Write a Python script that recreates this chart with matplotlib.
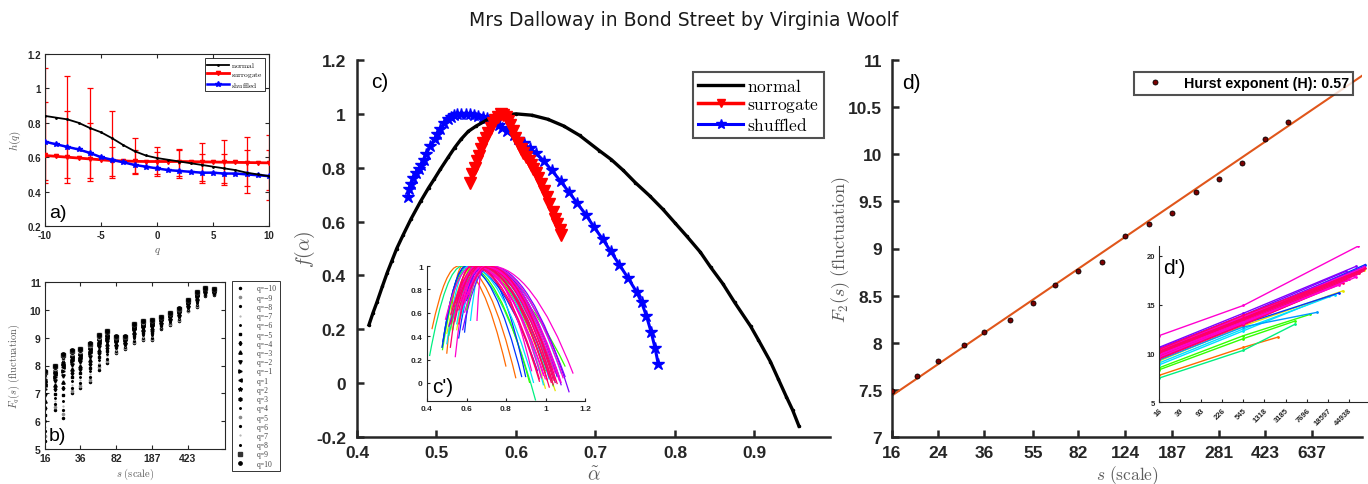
import matplotlib
matplotlib.use("Agg")
import matplotlib.pyplot as plt
from matplotlib.path import Path
from matplotlib.patches import PathPatch
from matplotlib.ticker import NullLocator
import numpy as np

plt.rcParams['mathtext.fontset'] = 'cm'
plt.rcParams['font.family'] = ['Liberation Sans', 'DejaVu Sans']
plt.rcParams['axes.unicode_minus'] = False

TITLE = "Mrs Dalloway in Bond Street by Virginia Woolf"

# ---------------- (a) generalized Hurst exponent h(q) ----------------
q_vals = list(range(-10, 11))
h_normal = [0.84, 0.83, 0.82, 0.80, 0.77, 0.745, 0.71, 0.67, 0.635, 0.61, 0.595,
            0.585, 0.575, 0.565, 0.555, 0.545, 0.535, 0.525, 0.51, 0.50, 0.49]
h_surrogate = [0.61, 0.605, 0.60, 0.595, 0.59, 0.585, 0.58, 0.578, 0.576, 0.575, 0.575,
               0.575, 0.575, 0.574, 0.573, 0.572, 0.571, 0.57, 0.569, 0.568, 0.567]
h_shuffled = [0.69, 0.675, 0.66, 0.645, 0.625, 0.60, 0.585, 0.57, 0.555, 0.545, 0.535,
              0.525, 0.52, 0.515, 0.51, 0.51, 0.505, 0.505, 0.50, 0.495, 0.49]
q_err = [-10, -8, -6, -4, -2, 0, 2, 4, 6, 8, 10]
err_center = [0.61, 0.60, 0.59, 0.58, 0.576, 0.575, 0.575, 0.573, 0.571, 0.569, 0.567]
err_outer_hi = [1.12, 1.07, 1.00, 0.87, 0.71, 0.66, 0.65, 0.68, 0.70, 0.72, 0.73]
err_outer_lo = [0.45, 0.45, 0.46, 0.48, 0.50, 0.49, 0.48, 0.45, 0.44, 0.39, 0.35]
err_inner_hi = [0.92, 0.87, 0.80, 0.66, 0.64, 0.63, 0.64, 0.62, 0.62, 0.64, 0.64]
err_inner_lo = [0.47, 0.48, 0.48, 0.49, 0.51, 0.50, 0.49, 0.46, 0.45, 0.43, 0.41]
a_yticks = [0.2, 0.4, 0.6, 0.8, 1.0, 1.2]
a_yticklabels = ['0.2', '0.4', '0.6', '0.8', '1', '1.2']
a_xticks = [-10, -5, 0, 5, 10]

# ---------------- (b) q-order fluctuation functions ----------------
scales = [16, 20, 24, 30, 36, 45, 55, 67, 82, 101, 124, 152, 187, 230, 281, 345,
          423, 519, 637, 781]
b_q_labels = [-10, -9, -8, -7, -6, -5, -4, -3, -2, -1, 1, 2, 3, 4, 5, 6, 7, 8, 9, 10]
# one row per scale, one value per q (q = -10 ... -1, 1 ... 10)
fq_rows = [
    [5.30, 5.45, 5.63, 5.80, 6.00, 6.23, 6.48, 6.73, 6.95, 7.15, 7.30, 7.40, 7.48, 7.55, 7.60, 7.65, 7.70, 7.73, 7.76, 7.80],
    [6.40, 6.50, 6.61, 6.72, 6.85, 6.99, 7.15, 7.31, 7.46, 7.58, 7.68, 7.74, 7.79, 7.84, 7.87, 7.90, 7.94, 7.95, 7.98, 8.00],
    [6.10, 6.24, 6.40, 6.56, 6.74, 6.95, 7.18, 7.41, 7.62, 7.80, 7.94, 8.03, 8.10, 8.17, 8.22, 8.26, 8.31, 8.33, 8.37, 8.40],
    [7.00, 7.09, 7.20, 7.31, 7.43, 7.57, 7.73, 7.88, 8.02, 8.15, 8.24, 8.30, 8.35, 8.40, 8.43, 8.46, 8.49, 8.50, 8.53, 8.55],
    [7.20, 7.28, 7.38, 7.48, 7.59, 7.72, 7.86, 8.00, 8.12, 8.24, 8.32, 8.38, 8.42, 8.46, 8.49, 8.52, 8.54, 8.56, 8.58, 8.60],
    [7.40, 7.48, 7.58, 7.68, 7.79, 7.92, 8.06, 8.20, 8.32, 8.44, 8.52, 8.58, 8.62, 8.66, 8.69, 8.72, 8.74, 8.76, 8.78, 8.80],
    [7.85, 7.93, 8.01, 8.10, 8.20, 8.31, 8.44, 8.56, 8.68, 8.78, 8.85, 8.90, 8.94, 8.98, 9.00, 9.03, 9.05, 9.06, 9.08, 9.10],
    [8.10, 8.17, 8.25, 8.33, 8.42, 8.53, 8.64, 8.76, 8.86, 8.95, 9.02, 9.07, 9.10, 9.14, 9.16, 9.18, 9.20, 9.22, 9.23, 9.25],
    [8.45, 8.49, 8.53, 8.57, 8.62, 8.67, 8.73, 8.79, 8.85, 8.89, 8.93, 8.95, 8.97, 8.99, 9.00, 9.01, 9.03, 9.03, 9.04, 9.05],
    [8.60, 8.63, 8.66, 8.69, 8.73, 8.77, 8.81, 8.86, 8.90, 8.93, 8.96, 8.98, 8.99, 9.01, 9.01, 9.02, 9.03, 9.04, 9.04, 9.05],
    [8.80, 8.84, 8.89, 8.94, 9.00, 9.06, 9.13, 9.20, 9.26, 9.32, 9.36, 9.39, 9.41, 9.43, 9.44, 9.46, 9.47, 9.48, 9.49, 9.50],
    [8.90, 8.94, 8.99, 9.04, 9.10, 9.16, 9.23, 9.30, 9.36, 9.42, 9.46, 9.49, 9.51, 9.53, 9.54, 9.56, 9.57, 9.58, 9.59, 9.60],
    [8.90, 8.95, 9.00, 9.05, 9.11, 9.18, 9.25, 9.33, 9.40, 9.46, 9.50, 9.53, 9.55, 9.58, 9.59, 9.61, 9.62, 9.63, 9.64, 9.65],
    [9.30, 9.33, 9.36, 9.39, 9.43, 9.47, 9.51, 9.56, 9.60, 9.63, 9.66, 9.68, 9.69, 9.71, 9.71, 9.72, 9.73, 9.74, 9.74, 9.75],
    [9.45, 9.48, 9.51, 9.54, 9.58, 9.62, 9.66, 9.71, 9.75, 9.78, 9.81, 9.83, 9.84, 9.86, 9.86, 9.87, 9.88, 9.89, 9.89, 9.90],
    [9.60, 9.63, 9.66, 9.69, 9.73, 9.77, 9.81, 9.86, 9.90, 9.93, 9.96, 9.98, 9.99, 10.01, 10.01, 10.02, 10.03, 10.04, 10.04, 10.05],
    [9.95, 9.97, 10.00, 10.03, 10.06, 10.10, 10.14, 10.18, 10.21, 10.25, 10.27, 10.29, 10.30, 10.31, 10.32, 10.33, 10.33, 10.34, 10.34, 10.35],
    [10.10, 10.13, 10.17, 10.21, 10.25, 10.30, 10.36, 10.41, 10.46, 10.51, 10.54, 10.56, 10.58, 10.60, 10.61, 10.62, 10.63, 10.63, 10.64, 10.65],
    [10.50, 10.52, 10.54, 10.56, 10.58, 10.61, 10.64, 10.67, 10.70, 10.72, 10.74, 10.75, 10.76, 10.77, 10.78, 10.78, 10.79, 10.79, 10.80, 10.80],
    [10.55, 10.56, 10.58, 10.59, 10.61, 10.62, 10.64, 10.66, 10.68, 10.69, 10.71, 10.72, 10.72, 10.73, 10.73, 10.74, 10.74, 10.74, 10.75, 10.75],
]
b_markers = ['.', 'o', '.', '.', '.', 's', 'd', '^', 'v', '>',
             '<', '*', 'h', '.', 'o', '.', '.', '.', 's', 'o']
b_msizes = [3.0, 1.6, 2.6, 1.2, 2.2, 2.0, 2.2, 2.4, 2.4, 2.4,
            2.4, 3.0, 2.4, 2.2, 1.6, 2.6, 1.2, 2.4, 2.4, 2.4]
b_colors = ['black', '#8a8a8a', 'black', '#b0b0b0', 'black', 'black', 'black', 'black', 'black', 'black',
            'black', 'black', 'black', 'black', '#8a8a8a', 'black', '#b0b0b0', 'black', '#333333', 'black']
b_xticks = [16, 36, 82, 187, 423]
b_yticks = [5, 6, 7, 8, 9, 10, 11]

# ---------------- (c) multifractal spectra ----------------
alpha_normal = [0.415, 0.42, 0.425, 0.432, 0.438, 0.444, 0.45, 0.458, 0.468, 0.48, 0.49,
                0.497, 0.505, 0.515, 0.523, 0.531, 0.54, 0.55, 0.565, 0.58, 0.60, 0.62,
                0.64, 0.66, 0.68, 0.705, 0.72, 0.735, 0.75, 0.768, 0.785, 0.80, 0.815,
                0.832, 0.845, 0.86, 0.875, 0.895, 0.905, 0.92, 0.93, 0.94, 0.948, 0.956]
f_normal = [0.216, 0.26, 0.30, 0.36, 0.41, 0.455, 0.50, 0.55, 0.61, 0.675, 0.725,
            0.757, 0.795, 0.84, 0.875, 0.906, 0.935, 0.955, 0.98, 0.995, 1.0, 0.995,
            0.98, 0.955, 0.92, 0.863, 0.83, 0.79, 0.745, 0.696, 0.645, 0.595, 0.545,
            0.486, 0.43, 0.37, 0.30, 0.212, 0.16, 0.08, 0.015, -0.05, -0.10, -0.16]
alpha_surrogate = [0.542, 0.545, 0.548, 0.551, 0.553, 0.556, 0.559, 0.562, 0.565, 0.568,
                   0.571, 0.574, 0.577, 0.581, 0.584, 0.587, 0.590, 0.593, 0.596, 0.599,
                   0.602, 0.606, 0.609, 0.612, 0.616, 0.619, 0.622, 0.625, 0.628, 0.632,
                   0.635, 0.639, 0.642, 0.646, 0.649, 0.652, 0.655, 0.657]
f_surrogate = [0.745, 0.775, 0.80, 0.825, 0.845, 0.868, 0.89, 0.91, 0.93, 0.948,
               0.965, 0.978, 0.99, 1.0, 0.997, 0.99, 0.975, 0.96, 0.935, 0.91,
               0.89, 0.87, 0.855, 0.84, 0.825, 0.81, 0.795, 0.78, 0.76, 0.74,
               0.715, 0.69, 0.665, 0.635, 0.61, 0.59, 0.57, 0.55]
alpha_shuffled = [0.4636, 0.466, 0.468, 0.471, 0.4745, 0.4775, 0.4805, 0.484, 0.487, 0.492,
                  0.4975, 0.501, 0.505, 0.51, 0.514, 0.518, 0.522, 0.526, 0.531, 0.537,
                  0.542, 0.547, 0.5525, 0.558, 0.563, 0.568, 0.574, 0.578, 0.582, 0.589,
                  0.597, 0.603, 0.61, 0.617, 0.6246, 0.635, 0.645, 0.656, 0.667, 0.677,
                  0.688, 0.698, 0.709, 0.719, 0.73, 0.741, 0.752, 0.758, 0.764, 0.770,
                  0.775, 0.779]
f_shuffled = [0.69, 0.72, 0.74, 0.76, 0.78, 0.795, 0.81, 0.83, 0.85, 0.88,
              0.906, 0.925, 0.945, 0.965, 0.98, 0.99, 0.995, 0.998, 1.0, 1.0,
              0.999, 0.996, 0.993, 0.99, 0.985, 0.978, 0.97, 0.96, 0.949, 0.935,
              0.92, 0.905, 0.89, 0.873, 0.856, 0.825, 0.79, 0.75, 0.708, 0.668,
              0.625, 0.58, 0.535, 0.49, 0.44, 0.39, 0.337, 0.30, 0.25, 0.19,
              0.13, 0.07]
c_xticks = [0.4, 0.5, 0.6, 0.7, 0.8, 0.9]
c_xticklabels = ['0.4', '0.5', '0.6', '0.7', '0.8', '0.9']
c_yticks = [-0.2, 0, 0.2, 0.4, 0.6, 0.8, 1.0, 1.2]
c_yticklabels = ['-0.2', '0', '0.2', '0.4', '0.6', '0.8', '1', '1.2']

# (c') spectra of the individual segments: start, peak, end of each arc
ORANGE, YELLOW, GREEN, SPRING = '#ff6a00', '#e6e600', '#33ff00', '#00f080'
CYAN, LBLUE, BLUE, PURPLE = '#00e0ff', '#0099ff', '#0033ff', '#8000ff'
MAGENTA, ROSE = '#ff00d0', '#ff0066'
seg_left_a = [0.425, 0.50, 0.413, 0.476, 0.478, 0.52, 0.50, 0.53, 0.55, 0.476, 0.59, 0.48,
              0.62, 0.55, 0.50, 0.53, 0.56, 0.51, 0.58, 0.57, 0.54, 0.60, 0.57, 0.51, 0.60,
              0.518, 0.543, 0.493, 0.653, 0.55, 0.53, 0.56, 0.57, 0.52, 0.58, 0.60, 0.54,
              0.56, 0.61, 0.55, 0.59, 0.52, 0.57, 0.54, 0.59, 0.62]
seg_left_f = [0.46, 0.25, 0.23, 0.30, 0.28, 0.45, 0.42, 0.45, 0.45, 0.30, 0.43, 0.35,
              0.53, 0.50, 0.33, 0.55, 0.38, 0.48, 0.45, 0.58, 0.60, 0.62, 0.55, 0.40, 0.70,
              0.30, 0.22, 0.54, 0.53, 0.70, 0.65, 0.62, 0.70, 0.58, 0.66, 0.72, 0.56,
              0.50, 0.75, 0.68, 0.60, 0.50, 0.62, 0.52, 0.68, 0.80]
seg_peak_a = [0.56, 0.58, 0.58, 0.60, 0.61, 0.63, 0.64, 0.64, 0.65, 0.60, 0.66, 0.60,
              0.68, 0.65, 0.61, 0.66, 0.67, 0.70, 0.72, 0.69, 0.69, 0.70, 0.71, 0.66, 0.71,
              0.62, 0.64, 0.63, 0.68, 0.66, 0.67, 0.68, 0.69, 0.66, 0.72, 0.70, 0.65,
              0.67, 0.70, 0.68, 0.71, 0.63, 0.68, 0.66, 0.70, 0.71]
seg_right_a = [0.80, 0.85, 0.95, 0.92, 1.10, 1.05, 1.00, 1.00, 1.00, 0.88, 0.90, 0.96,
               0.99, 1.05, 0.94, 1.02, 1.07, 1.08, 1.12, 1.10, 1.06, 1.04, 1.08, 1.04, 1.06,
               0.97, 0.99, 1.00, 0.93, 1.03, 1.05, 1.06, 1.07, 1.02, 1.14, 1.05, 0.98,
               1.01, 1.03, 1.04, 1.09, 0.97, 1.05, 1.02, 1.08, 1.04]
seg_right_f = [0.14, 0.04, -0.15, 0.00, 0.14, -0.07, 0.08, 0.10, -0.05, 0.05, 0.05, 0.10,
               -0.02, 0.00, 0.00, 0.03, 0.05, -0.02, -0.08, 0.05, 0.06, -0.03, 0.08, 0.12, 0.05,
               0.01, 0.06, 0.03, 0.10, 0.00, 0.02, -0.01, 0.02, 0.05, 0.08, 0.00, 0.04,
               0.02, 0.03, -0.02, 0.04, 0.03, 0.08, -0.04, 0.00, 0.02]
seg_colors = [ORANGE, ORANGE, SPRING, GREEN, GREEN, YELLOW, YELLOW, GREEN, YELLOW, BLUE, BLUE, BLUE,
              CYAN, CYAN, CYAN, LBLUE, BLUE, PURPLE, PURPLE, PURPLE, SPRING, GREEN, CYAN, SPRING, BLUE,
              ROSE, MAGENTA, MAGENTA, MAGENTA, ROSE, MAGENTA, ROSE, MAGENTA, ROSE, MAGENTA, ROSE, MAGENTA,
              ROSE, MAGENTA, ROSE, MAGENTA, ROSE, MAGENTA, ROSE, MAGENTA, ROSE]

# ---------------- (d) second-order fluctuation and Hurst fit ----------------
d_scales = scales[:18]
f2_values = [7.49, 7.65, 7.81, 7.98, 8.11, 8.24, 8.42, 8.61, 8.76, 8.86, 9.13, 9.26,
             9.38, 9.60, 9.74, 9.91, 10.16, 10.34]
hurst = 0.57
f2_intercept = 7.44  # fitted F2 at the smallest scale
d_xticks = [16, 24, 36, 55, 82, 124, 187, 281, 423, 637]
d_yticks = [7, 7.5, 8, 8.5, 9, 9.5, 10, 10.5, 11]
d_yticklabels = ['7', '7.5', '8', '8.5', '9', '9.5', '10', '10.5', '11']
d_xmax = 990

# (d') F2 curves of the individual segments: value at 16, at 545, last scale, last value
seg_mid_scale = 545
dseg_start = [7.73, 7.45, 8.3, 8.5, 8.8, 9.0, 9.2, 9.3, 9.5, 9.6, 9.8, 10.3, 10.5, 10.6,
              10.1, 9.9, 10.4, 9.4, 9.6, 9.8, 10.0, 10.2, 10.4, 9.5, 9.9, 10.1, 10.3, 9.7,
              10.0, 9.8, 10.2, 9.6, 10.4, 11.8]
dseg_mid = [10.6, 10.3, 11.5, 11.8, 12.3, 12.5, 12.8, 12.7, 13.0, 13.0, 13.2, 13.6, 13.9, 14.1,
            13.5, 13.3, 13.8, 12.9, 13.1, 13.3, 13.4, 13.6, 13.8, 13.0, 13.3, 13.5, 13.7, 13.2,
            13.4, 13.2, 13.6, 13.1, 13.9, 14.9]
dseg_end_scale = [2300, 4700, 4700, 9000, 20000, 25000, 35000, 12000, 30000, 80000, 85000, 90000,
                  40000, 60000, 70000, 50000, 85000, 45000, 55000, 70000, 65000, 80000, 50000,
                  35000, 60000, 75000, 85000, 40000, 70000, 30000, 90000, 60000, 80000, 67000]
dseg_end = [11.65, 12.97, 13.3, 14.0, 15.9, 16.0, 16.4, 14.2, 16.2, 18.6, 18.5, 19.1, 18.4, 18.9,
            18.6, 18.0, 18.9, 17.6, 17.9, 18.3, 18.2, 18.6, 18.0, 17.2, 18.1, 18.4, 18.8, 17.5,
            18.2, 17.0, 18.7, 17.8, 18.5, 21.0]
dseg_colors = [ORANGE, SPRING, GREEN, GREEN, CYAN, CYAN, YELLOW, LBLUE, BLUE, ORANGE, YELLOW, BLUE,
               PURPLE, PURPLE, BLUE, CYAN, PURPLE, ROSE, MAGENTA, ROSE, MAGENTA, ROSE, MAGENTA, ROSE,
               MAGENTA, ROSE, MAGENTA, ROSE, ROSE, MAGENTA, ROSE, MAGENTA, ROSE, MAGENTA]
dp_xticks = [16, 39, 93, 226, 545, 1318, 3185, 7696, 18597, 44938]
dp_yticks = [5, 10, 15, 20]

# ---------------- figure ----------------
W, H = 1368, 485
fig = plt.figure(figsize=(W / 100, H / 100), dpi=100)
AX_COLOR = '#262626'
LABEL_COLOR = '#5c5c5c'


def px_axes(left, top, right, bottom):
    return fig.add_axes([left / W, 1 - bottom / H, (right - left) / W, (bottom - top) / H])


def style_ticks(ax, size, lw=1.0, length=3.5, box=False, xpad=3.0, ypad=3.0):
    for sp in ax.spines.values():
        sp.set_color(AX_COLOR)
        sp.set_linewidth(lw)
    if not box:
        ax.spines['top'].set_visible(False)
        ax.spines['right'].set_visible(False)
    ax.tick_params(direction='in', length=length, width=lw, colors=AX_COLOR,
                   labelsize=size, top=box, right=box)
    ax.tick_params(axis='x', pad=xpad)
    ax.tick_params(axis='y', pad=ypad)
    for lab in ax.get_xticklabels() + ax.get_yticklabels():
        lab.set_fontweight('bold')


fig.text(0.5, 1 - 21 / H, TITLE, ha='center', va='center', fontsize=13.5,
         family='DejaVu Sans', color='#1a1a1a')

# ---- (a)
ax_a = px_axes(45, 55, 269, 227)
ax_a.errorbar(q_err, err_center,
              yerr=[np.subtract(err_center, err_outer_lo), np.subtract(err_outer_hi, err_center)],
              fmt='none', ecolor='red', elinewidth=0.9, capsize=2.5, capthick=0.9, zorder=2)
ax_a.errorbar(q_err, err_center,
              yerr=[np.subtract(err_center, err_inner_lo), np.subtract(err_inner_hi, err_center)],
              fmt='none', ecolor='red', elinewidth=0.9, capsize=2.5, capthick=0.9, zorder=2)
ax_a.plot(q_vals, h_normal, color='black', lw=1.3, marker='.', ms=2, label=r'$\mathrm{normal}$', zorder=4)
ax_a.plot(q_vals, h_surrogate, color='red', lw=2.0, marker='v', ms=3, label=r'$\mathrm{surrogate}$', zorder=3)
ax_a.plot(q_vals, h_shuffled, color='blue', lw=1.8, marker='*', ms=4, label=r'$\mathrm{shuffled}$', zorder=3)
ax_a.set_xlim(-10, 10)
ax_a.set_ylim(0.2, 1.2)
ax_a.set_xticks(a_xticks)
ax_a.set_yticks(a_yticks)
ax_a.set_yticklabels(a_yticklabels)
style_ticks(ax_a, 7, lw=0.8, length=3, box=True)
ax_a.set_ylabel(r'$h(q)$', fontsize=8, color=LABEL_COLOR)
ax_a.yaxis.set_label_coords(-0.10, 0.5)
ax_a.set_xlabel(r'$q$', fontsize=8, color=LABEL_COLOR)
ax_a.xaxis.set_label_coords(0.5, -0.11)
leg_a = ax_a.legend(loc='upper right', fontsize=5.3, frameon=True, fancybox=False,
                    handlelength=3.0, borderpad=0.25, labelspacing=0.1, borderaxespad=0.6,
                    numpoints=1, handletextpad=0.3)
leg_a.get_frame().set_edgecolor('black')
leg_a.get_frame().set_linewidth(0.7)
ax_a.text(0.02, 0.03, 'a)', transform=ax_a.transAxes, fontsize=14, ha='left', va='bottom')

# ---- (b)
ax_b = px_axes(45, 283, 225, 450)
for j, q in enumerate(b_q_labels):
    col_vals = [row[j] for row in fq_rows]
    ax_b.plot(scales, col_vals, linestyle='none', marker=b_markers[j], ms=b_msizes[j],
              color=b_colors[j], mec=b_colors[j], label='q=%s' % str(q).replace('-', '\u2212'))
ax_b.set_xscale('log')
ax_b.set_xlim(16, 16 * 1.227 ** 20.2)
ax_b.set_ylim(5, 11)
ax_b.set_xticks(b_xticks)
ax_b.set_xticklabels([str(t) for t in b_xticks])
ax_b.xaxis.set_minor_locator(NullLocator())
ax_b.set_yticks(b_yticks)
style_ticks(ax_b, 7.5, lw=0.8, length=3, box=True)
ax_b.set_ylabel(r'$F_q(s)\ \mathrm{(fluctuation)}$', fontsize=7.5, color=LABEL_COLOR)
ax_b.yaxis.set_label_coords(-0.128, 0.5)
ax_b.set_xlabel(r'$s\ \mathrm{(scale)}$', fontsize=7.5, color=LABEL_COLOR)
ax_b.xaxis.set_label_coords(0.5, -0.10)
leg_b = ax_b.legend(loc='upper left', bbox_to_anchor=(232 / W, 1 - 282 / H),
                    bbox_transform=fig.transFigure, frameon=True, fancybox=False,
                    prop={'family': 'Liberation Serif', 'size': 5.5},
                    handlelength=1.3, borderpad=0.45, labelspacing=0.16, borderaxespad=0,
                    numpoints=1, handletextpad=1.5, handleheight=0.6)
leg_b.get_frame().set_edgecolor('black')
leg_b.get_frame().set_linewidth(0.7)
for t in leg_b.get_texts():
    t.set_color('#444444')
ax_b.text(0.02, 0.03, 'b)', transform=ax_b.transAxes, fontsize=14, ha='left', va='bottom')

# ---- (c)
ax_c = px_axes(357, 61, 830, 438)
ax_c.plot(alpha_normal, f_normal, color='black', lw=2.4, marker='.', ms=3, label=r'$\mathrm{normal}$', zorder=3)
ax_c.plot(alpha_surrogate, f_surrogate, color='red', lw=2.5, marker='v', ms=8, label=r'$\mathrm{surrogate}$', zorder=4)
ax_c.plot(alpha_shuffled, f_shuffled, color='blue', lw=2.2, marker='*', ms=9, label=r'$\mathrm{shuffled}$', zorder=2)
ax_c.set_xlim(0.4, 0.995)
ax_c.set_ylim(-0.2, 1.2)
ax_c.set_xticks(c_xticks)
ax_c.set_xticklabels(c_xticklabels)
ax_c.set_yticks(c_yticks)
ax_c.set_yticklabels(c_yticklabels)
style_ticks(ax_c, 12.5, lw=1.8, length=5, xpad=6, ypad=8)
ax_c.set_ylabel(r'$f(\alpha)$', fontsize=14, color=LABEL_COLOR)
ax_c.yaxis.set_label_coords(-0.085, 0.5)
ax_c.set_xlabel(r'$\tilde{\alpha}$', fontsize=14, color=LABEL_COLOR)
ax_c.xaxis.set_label_coords(0.5, -0.075)
leg_c = ax_c.legend(loc='upper left', bbox_to_anchor=(693 / W, 1 - 73 / H),
                    bbox_transform=fig.transFigure, fontsize=12.5, frameon=True, fancybox=False,
                    handlelength=2.6, borderpad=0.3, labelspacing=0.1, borderaxespad=0,
                    numpoints=1, handletextpad=0.2, markerscale=0.8)
leg_c.get_frame().set_edgecolor(AX_COLOR)
leg_c.get_frame().set_linewidth(1.5)
ax_c.text(0.03, 0.944, 'c)', transform=ax_c.transAxes, fontsize=15, ha='left', va='center')

# ---- (c') inset
ax_ci = px_axes(427, 267, 585, 402)
ax_ci.patch.set_alpha(0)
for la, lf, pa, ra, rf, col in zip(seg_left_a, seg_left_f, seg_peak_a, seg_right_a,
                                   seg_right_f, seg_colors):
    verts = [(la, lf), ((la + pa) / 2, 1.0), (pa, 1.0), ((pa + ra) / 2, 1.0), (ra, rf)]
    codes = [Path.MOVETO, Path.CURVE3, Path.CURVE3, Path.CURVE3, Path.CURVE3]
    ax_ci.add_patch(PathPatch(Path(verts, codes), fill=False, edgecolor=col, lw=0.9))
ax_ci.set_xlim(0.4, 1.2)
ax_ci.set_ylim(-0.154, 1.0)
ax_ci.set_xticks([0.4, 0.6, 0.8, 1.0, 1.2])
ax_ci.set_xticklabels(['0.4', '0.6', '0.8', '1', '1.2'])
ax_ci.set_yticks([0, 0.2, 0.4, 0.6, 0.8, 1.0])
ax_ci.set_yticklabels(['0', '0.2', '0.4', '0.6', '0.8', '1'])
style_ticks(ax_ci, 6, lw=0.8, length=2.5)
ax_ci.text(0.03, 0.11, "c')", transform=ax_ci.transAxes, fontsize=15, ha='left', va='center')

# ---- (d)
ax_d = px_axes(892, 61, 1362, 438)
fit_x = [16, d_xmax]
fit_y = [f2_intercept + hurst * np.log2(s / 16) for s in fit_x]
ax_d.plot(fit_x, fit_y, color='#e0561b', lw=1.5, zorder=2)
ax_d.plot(d_scales, f2_values, linestyle='none', marker='o', ms=3.6, mfc='#7a0000',
          mec='black', mew=0.6, zorder=3, label='Hurst exponent (H): %.2f' % hurst)
ax_d.set_xscale('log')
ax_d.set_xlim(16, d_xmax)
ax_d.set_ylim(7, 11)
ax_d.set_xticks(d_xticks)
ax_d.set_xticklabels([str(t) for t in d_xticks])
ax_d.xaxis.set_minor_locator(NullLocator())
ax_d.set_yticks(d_yticks)
ax_d.set_yticklabels(d_yticklabels)
style_ticks(ax_d, 12.5, lw=1.8, length=5, xpad=6, ypad=7)
ax_d.set_ylabel(r'$F_2(s)\ \mathrm{(fluctuation)}$', fontsize=13, color=LABEL_COLOR)
ax_d.yaxis.set_label_coords(-0.085, 0.5)
ax_d.set_xlabel(r'$s\ \mathrm{(scale)}$', fontsize=12.5, color=LABEL_COLOR)
ax_d.xaxis.set_label_coords(0.5, -0.07)
leg_d = ax_d.legend(loc='upper right', bbox_to_anchor=(1353 / W, 1 - 73 / H),
                    bbox_transform=fig.transFigure, frameon=True, fancybox=False,
                    prop={'weight': 'bold', 'size': 10.3}, handlelength=2.4,
                    borderpad=0.3, borderaxespad=0, numpoints=1, handletextpad=0.8)
leg_d.get_frame().set_edgecolor(AX_COLOR)
leg_d.get_frame().set_linewidth(1.5)
ax_d.text(0.021, 0.94, 'd)', transform=ax_d.transAxes, fontsize=15, ha='left', va='center')

# ---- (d') inset
ax_di = px_axes(1159, 247, 1367, 403)
ax_di.patch.set_alpha(0)
for y0, ym, se, ye, col in zip(dseg_start, dseg_mid, dseg_end_scale, dseg_end, dseg_colors):
    ax_di.plot([16, seg_mid_scale, se], [y0, ym, ye], color=col, lw=1.0, marker='.', ms=2)
ax_di.set_xscale('log')
ax_di.set_xlim(16, 96000)
ax_di.set_ylim(5, 21)
ax_di.set_xticks(dp_xticks)
ax_di.set_xticklabels([str(t) for t in dp_xticks], rotation=45, ha='right', rotation_mode='anchor')
ax_di.xaxis.set_minor_locator(NullLocator())
ax_di.set_yticks(dp_yticks)
style_ticks(ax_di, 5.5, lw=0.8, length=2.5)
ax_di.text(0.02, 0.865, "d')", transform=ax_di.transAxes, fontsize=15, ha='left', va='center')

fig.savefig('out.png', dpi=100)
